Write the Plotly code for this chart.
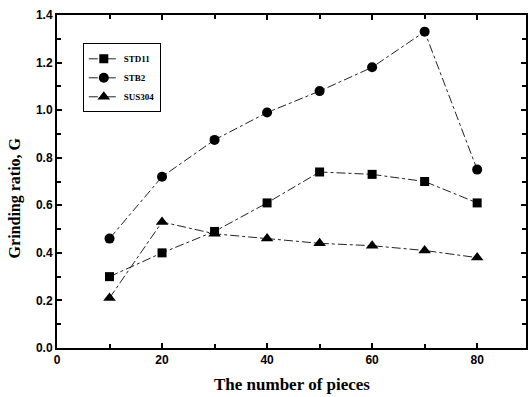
import plotly.graph_objects as go

pieces = [10, 20, 30, 40, 50, 60, 70, 80]
std11 = [0.30, 0.40, 0.49, 0.61, 0.74, 0.73, 0.70, 0.61]
stb2 = [0.46, 0.72, 0.875, 0.99, 1.08, 1.18, 1.33, 0.75]
sus304 = [0.21, 0.53, 0.48, 0.46, 0.44, 0.43, 0.41, 0.38]

fig = go.Figure()
series = [("STD11", std11, "square", 9), ("STB2", stb2, "circle", 10), ("SUS304", sus304, "triangle-up", 11)]
for name, vals, sym, sz in series:
    fig.add_trace(go.Scatter(
        x=pieces, y=vals, name=name, mode="lines+markers",
        line=dict(color="#222", width=1, dash="dashdot"),
        marker=dict(symbol=sym, size=sz, color="black"),
    ))

axis_common = dict(
    showline=True, linecolor="black", linewidth=2, mirror="ticks",
    ticks="inside", ticklen=5, tickwidth=1.5, tickcolor="black",
    showgrid=False, zeroline=False,
    tickfont=dict(family="Arial, Liberation Sans", size=12, color="black", weight="bold"),
)

title_font = dict(family="Times New Roman, Liberation Serif", size=17, color="black", weight="bold")

fig.update_layout(
    width=529, height=397,
    margin=dict(l=57, r=1, t=15, b=49),
    paper_bgcolor="white", plot_bgcolor="white",
    showlegend=True,
    legend=dict(
        x=0.055, y=0.915, xanchor="left", yanchor="top",
        bordercolor="black", borderwidth=1, bgcolor="white",
        font=dict(family="Times New Roman, Liberation Serif", size=9, color="black", weight="bold"),
        itemwidth=30, tracegroupgap=0,
    ),
    xaxis=dict(
        range=[0, 89.3], dtick=20, tick0=0,
        minor=dict(dtick=10, ticks="inside", ticklen=4, tickcolor="black"),
        **axis_common,
    ),
    yaxis=dict(
        range=[0, 1.4], dtick=0.2, tickformat=".1f",
        minor=dict(dtick=0.1, ticks="inside", ticklen=4, tickcolor="black"),
        **axis_common,
    ),
    annotations=[
        dict(text="The number of pieces", xref="paper", yref="paper", x=0.5, y=-0.111,
             xanchor="center", yanchor="middle", showarrow=False, font=title_font),
        dict(text="Grinding ratio, G", xref="paper", yref="paper", x=-0.089, y=0.45,
             xanchor="center", yanchor="middle", showarrow=False, textangle=-90,
             font=dict(family="Times New Roman, Liberation Serif", size=16, color="black", weight="bold")),
    ],
)

fig.write_html("out.html")
